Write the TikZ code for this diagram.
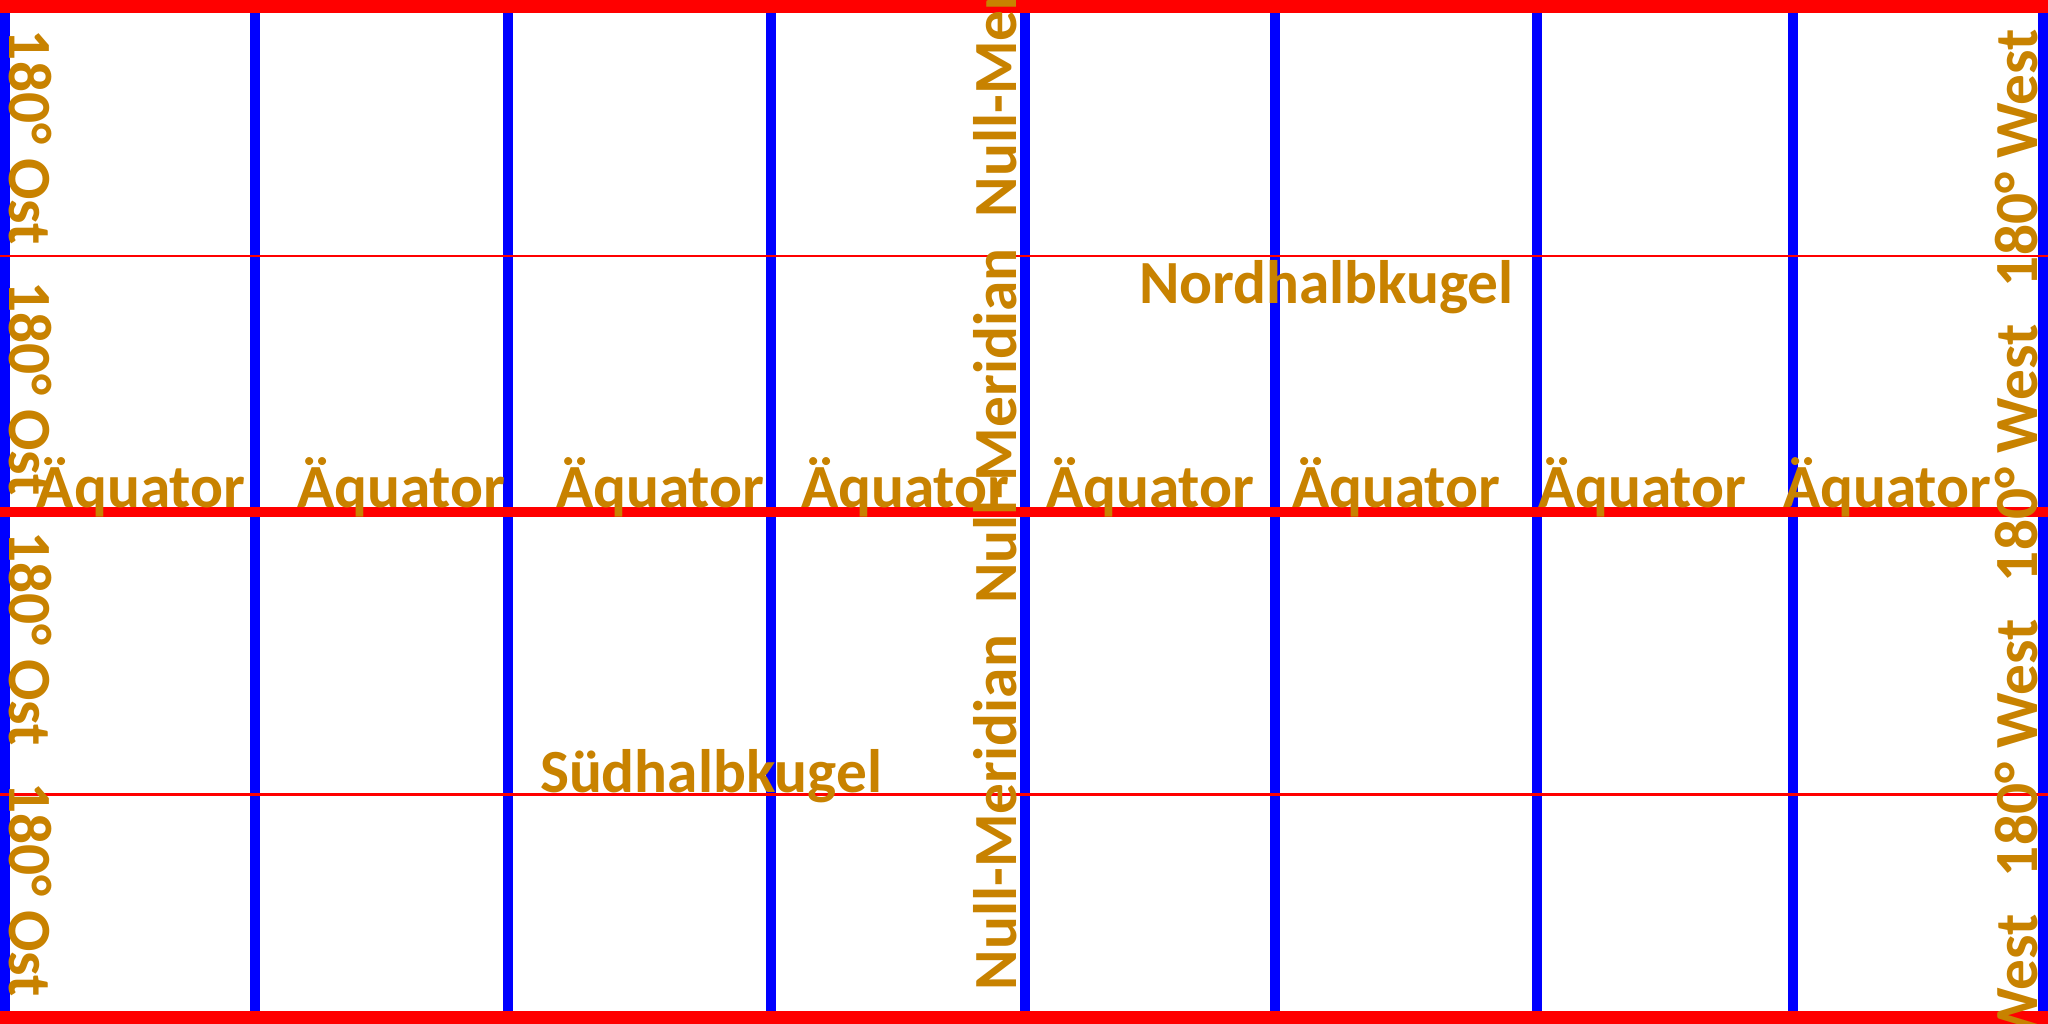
\documentclass[tikz,border=0pt]{standalone}
\usepackage{fontspec}
\setmainfont{Carlito}
\definecolor{labelorange}{RGB}{200,130,0}
\definecolor{gridblue}{RGB}{0,0,255}
\definecolor{gridred}{RGB}{255,0,0}
\tikzset{
  lbl/.style={inner sep=0pt, outer sep=0pt, anchor=base west, text=labelorange,
    font=\fontsize{17.45pt}{20pt}\selectfont\bfseries},
  meridian/.style={draw=gridblue, line width=0.1cm},
  bandline/.style={draw=gridred, line width=0.13cm},
  equatorline/.style={draw=gridred, line width=0.1cm},
  thinline/.style={draw=gridred, line width=0.025cm}
}
\begin{document}
\begin{tikzpicture}[x=0.01cm,y=-0.01cm]
\useasboundingbox (0,0) rectangle (2048,1024);
\fill[white] (0,0) rectangle (2048,1024);
\begin{scope}
\clip (0,0) rectangle (2048,1024);
% meridians
\foreach \x in {5,255,508,771,1025,1275,1537,1793,2043}{
  \draw[meridian] (\x,0) -- (\x,1024);
}
% parallels
\draw[thinline] (0,256) -- (2048,256);
\draw[thinline] (0,794.5) -- (2048,794.5);
\draw[equatorline] (0,512) -- (2048,512);
\draw[bandline] (0,6.5) -- (2048,6.5);
\draw[bandline] (0,1017.5) -- (2048,1017.5);
% labels
\foreach \y [count=\i] in {30,281,531,782}{
  \node[lbl, rotate=-90] (ost\i) at (9,\y) {180° Ost};
}
\foreach \y [count=\i] in {287,582,877,1172}{
  \node[lbl, rotate=90] (west\i) at (2037,\y) {180° West};
}
\foreach \y [count=\i] in {990,603.5,217}{
  \node[lbl, rotate=90] (null\i) at (1016,\y) {Null-Meridian};
}
\foreach \x [count=\i] in {37,297,556,801,1046,1292,1538,1783}{
  \node[lbl] (aeq\i) at (\x,507) {Äquator};
}
\node[lbl] (nord) at (1139,303) {Nordhalbkugel};
\node[lbl] (sued) at (540,792) {Südhalbkugel};
\end{scope}
\end{tikzpicture}
\end{document}
